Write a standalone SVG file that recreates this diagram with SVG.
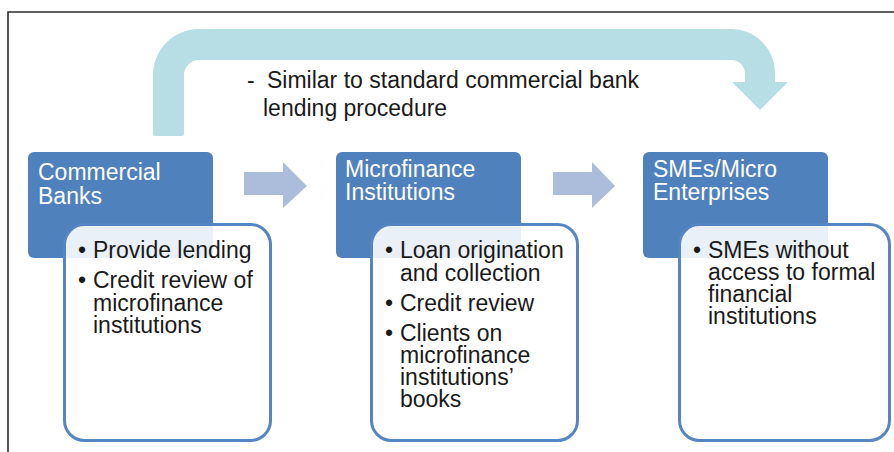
<svg xmlns="http://www.w3.org/2000/svg" width="894" height="452" viewBox="0 0 894 452">
  <style>
    .title { fill: #4F81BD; }
    .content { fill: #FFFFFF; fill-opacity: 0.88; stroke: #5585C2; stroke-width: 3; }
    .ttl { font-family: "Liberation Sans", Arial, sans-serif; font-size: 23px; fill: #FFFFFF; }
    .txt { font-family: "Liberation Sans", Arial, sans-serif; font-size: 23px; fill: #1A1A1A; }
    .flow { fill: #ABBDDA; }
    .bend { fill: #B7DDE5; }
  </style>
  <rect x="0" y="0" width="894" height="452" fill="#FFFFFF"/>
  <path d="M8,452 V12 H894" fill="none" stroke="#2B2B2B" stroke-width="1.6"/>

  <g id="connectors">
    <path class="bend" d="M153,134 V75 A46,46 0 0 1 199,29 H731 A44,44 0 0 1 775,73 V82 H788 L760,110 L732,82 H745 V74 A14,14 0 0 0 731,60 H199 A15,15 0 0 0 184,75 V134 Q184,136 182,136 H155 Q153,136 153,134 Z"/>
    <path class="flow" d="M244,172 H283 V162 L307,186 L283,208 V195 H244 Z"/>
    <path class="flow" d="M553,172 H592 V162 L615,186 L592,208 V195 H553 Z"/>
  </g>

  <g id="note">
    <text class="txt" x="247" y="88">-</text>
    <text class="txt" x="267" y="88">Similar to standard commercial bank</text>
    <text class="txt" x="263" y="116">lending procedure</text>
  </g>

  <g id="commercial-banks">
    <rect class="title" x="28" y="152" width="185" height="106" rx="6"/>
    <text class="ttl" x="38" y="180">Commercial</text>
    <text class="ttl" x="38" y="204">Banks</text>
    <rect class="content" x="64.5" y="224.5" width="206" height="216" rx="20"/>
    <text class="txt" x="78" y="258">•</text>
    <text class="txt" x="93" y="258">Provide lending</text>
    <text class="txt" x="78" y="288">•</text>
    <text class="txt" x="93" y="288">Credit review of</text>
    <text class="txt" x="93" y="311">microfinance</text>
    <text class="txt" x="93" y="333">institutions</text>
  </g>

  <g id="microfinance-institutions">
    <rect class="title" x="336" y="152" width="185" height="106" rx="6"/>
    <text class="ttl" x="345" y="177">Microfinance</text>
    <text class="ttl" x="345" y="200">Institutions</text>
    <rect class="content" x="371.5" y="224.5" width="206" height="216" rx="20"/>
    <text class="txt" x="385" y="258">•</text>
    <text class="txt" x="400" y="258">Loan origination</text>
    <text class="txt" x="400" y="281">and collection</text>
    <text class="txt" x="385" y="311">•</text>
    <text class="txt" x="400" y="311">Credit review</text>
    <text class="txt" x="385" y="341">•</text>
    <text class="txt" x="400" y="341">Clients on</text>
    <text class="txt" x="400" y="363">microfinance</text>
    <text class="txt" x="400" y="385">institutions’</text>
    <text class="txt" x="400" y="407">books</text>
  </g>

  <g id="smes">
    <rect class="title" x="643" y="152" width="185" height="106" rx="6"/>
    <text class="ttl" x="653" y="177">SMEs/Micro</text>
    <text class="ttl" x="653" y="200">Enterprises</text>
    <rect class="content" x="679.5" y="224.5" width="210" height="216" rx="20"/>
    <text class="txt" x="693" y="258">•</text>
    <text class="txt" x="708" y="258">SMEs without</text>
    <text class="txt" x="708" y="280">access to formal</text>
    <text class="txt" x="708" y="302">financial</text>
    <text class="txt" x="708" y="324">institutions</text>
  </g>
</svg>
